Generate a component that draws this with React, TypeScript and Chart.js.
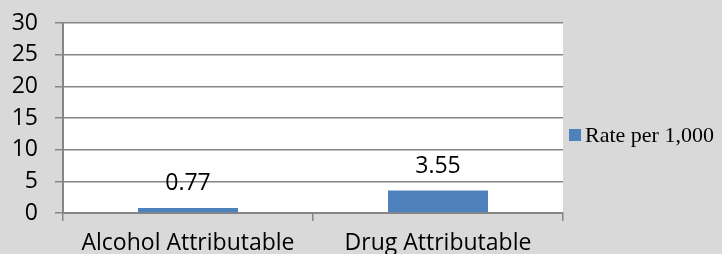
import React, { useEffect, useRef } from "react";
import { Chart, registerables } from "chart.js";

Chart.register(...registerables);

const categories = ["Alcohol Attributable", "Drug Attributable"];
const rateValues = [0.77, 3.55];
const seriesLabel = "Rate per 1,000";
const yMin = 0;
const yMax = 30;
const yStep = 5;

const BAR_COLOR = "#4f81bd";
const AXIS_COLOR = "#868686";
const BG = "#d9d9d9";
const SANS = "'Open Sans'";
const SERIF = "'Liberation Serif'";

const areaBg = {
  id: "areaBg",
  beforeDraw(chart: any) {
    const { ctx, chartArea } = chart;
    ctx.save();
    ctx.fillStyle = "#ffffff";
    ctx.fillRect(chartArea.left, chartArea.top, chartArea.right - chartArea.left, chartArea.bottom - chartArea.top);
    ctx.restore();
  },
};

const valueLabels = {
  id: "valueLabels",
  afterDatasetsDraw(chart: any) {
    const { ctx } = chart;
    const meta = chart.getDatasetMeta(0);
    ctx.save();
    ctx.font = `23px ${SANS}`;
    ctx.fillStyle = "#000000";
    ctx.textAlign = "center";
    ctx.textBaseline = "alphabetic";
    meta.data.forEach((bar: any, i: number) => {
      const v = chart.data.datasets[0].data[i];
      ctx.fillText(Number(v).toFixed(2), bar.x, bar.y - 18);
    });
    ctx.restore();
  },
};

const sideLegend = {
  id: "sideLegend",
  afterDraw(chart: any) {
    const { ctx, chartArea } = chart;
    const cy = (chartArea.top + chartArea.bottom) / 2 + 17;
    const x = chartArea.right + 6;
    ctx.save();
    ctx.fillStyle = chart.data.datasets[0].backgroundColor;
    ctx.fillRect(x, cy - 6, 12, 12);
    ctx.font = `22px ${SERIF}`;
    ctx.fillStyle = "#000000";
    ctx.textAlign = "left";
    ctx.textBaseline = "alphabetic";
    ctx.fillText(chart.data.datasets[0].label, x + 16, cy + 7);
    ctx.restore();
  },
};

export default function App() {
  const ref = useRef<HTMLCanvasElement | null>(null);

  useEffect(() => {
    if (!ref.current) return;
    const chart = new Chart(ref.current, {
      type: "bar",
      data: {
        labels: categories,
        datasets: [
          {
            label: seriesLabel,
            data: rateValues,
            backgroundColor: BAR_COLOR,
            borderWidth: 0,
            barPercentage: 0.4,
            categoryPercentage: 1.0,
          },
        ],
      },
      options: {
        animation: false,
        responsive: true,
        maintainAspectRatio: false,
        layout: { padding: { top: 23, right: 159, left: 0, bottom: 0 } },
        plugins: {
          legend: { display: false },
          tooltip: { enabled: false },
        },
        scales: {
          x: {
            grid: {
              drawOnChartArea: false,
              drawTicks: true,
              tickLength: 8,
              color: AXIS_COLOR,
              lineWidth: 1.5,
              offset: true,
            },
            border: { color: AXIS_COLOR, width: 2 },
            ticks: { font: { family: SANS, size: 23 }, color: "#000000", padding: 9, maxRotation: 0, autoSkip: false },
            afterFit: (s: any) => {
              s.height = 41;
              s.paddingLeft = 0;
              s.paddingRight = 0;
            },
          },
          y: {
            min: yMin,
            max: yMax,
            ticks: {
              stepSize: yStep,
              font: { family: SANS, size: 23 },
              color: "#000000",
              padding: 17,
              autoSkip: false,
            },
            grid: { color: AXIS_COLOR, lineWidth: 1.5, tickLength: 8 },
            border: { color: AXIS_COLOR, width: 2 },
            afterFit: (s: any) => {
              s.width = 63;
              s.paddingTop = 0;
              s.paddingBottom = 0;
            },
          },
        },
      },
      plugins: [areaBg, valueLabels, sideLegend],
    });
    return () => chart.destroy();
  }, []);

  return (
    <div style={{ position: "fixed", left: 0, top: 0, width: 722, height: 254, background: BG }}>
      <canvas ref={ref} />
    </div>
  );
}
